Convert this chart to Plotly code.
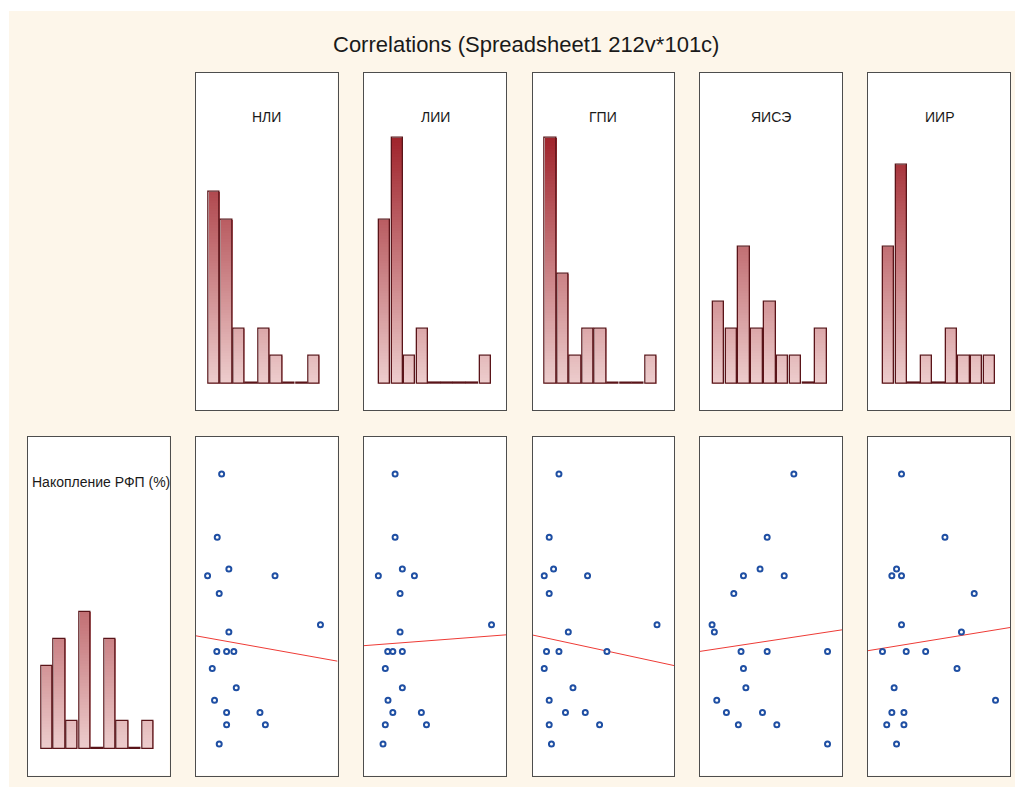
import numpy as np
import plotly.graph_objects as go

# ---------------- data ----------------
TITLE = "Correlations (Spreadsheet1 212v*101c)"
Y_NAME = "Накопление РФП (%)"
X_NAMES = ["НЛИ", "ЛИИ", "ГПИ", "ЯИСЭ", "ИИР"]

rfp = [89.1, 70.4, 61.0, 59.0, 59.0, 53.8, 44.5, 42.4, 36.6, 36.6, 36.6, 31.6, 25.9, 22.2, 18.6, 18.6, 15.0, 15.0, 9.3]
nli = [18.4, 15.3, 23.5, 8.5, 56.0, 16.7, 88.0, 23.5, 15.0, 21.9, 27.0, 11.8, 28.7, 13.4, 21.9, 45.4, 21.9, 49.2, 16.7]
lii = [21.9, 21.9, 27.0, 10.1, 35.5, 25.4, 89.8, 25.4, 16.7, 20.3, 27.0, 15.0, 27.0, 16.9, 20.3, 40.4, 15.0, 44.0, 13.4]
gpi = [18.7, 11.8, 14.9, 8.3, 38.9, 11.8, 88.0, 25.3, 9.9, 18.7, 52.6, 8.3, 28.6, 11.8, 23.3, 37.3, 11.8, 47.4, 13.4]
yise = [66.1, 47.3, 42.3, 30.6, 59.3, 23.8, 8.5, 10.1, 28.9, 47.3, 89.8, 30.6, 32.3, 11.8, 18.6, 44.0, 27.0, 54.1, 89.8]
iir = [23.6, 54.2, 20.1, 16.8, 23.6, 74.8, 23.6, 65.8, 10.2, 26.9, 40.6, 62.7, 18.4, 89.8, 16.8, 25.3, 13.2, 25.3, 20.1]

# histogram counts (9 bins between min and max of each variable)
nli_counts = [7, 6, 2, 0, 2, 1, 0, 0, 1]
lii_counts = [6, 9, 1, 2, 0, 0, 0, 0, 1]
gpi_counts = [9, 4, 1, 2, 2, 0, 0, 0, 1]
yise_counts = [3, 2, 5, 2, 3, 1, 1, 0, 2]
iir_counts = [5, 8, 0, 1, 0, 2, 1, 1, 1]
rfp_counts = [3, 4, 1, 5, 0, 4, 1, 0, 1]

x_vars = [nli, lii, gpi, yise, iir]
x_counts = [nli_counts, lii_counts, gpi_counts, yise_counts, iir_counts]

# ---------------- layout constants ----------------
W, H = 1022, 787
COLS = [(27.5, 169.5), (195.5, 337.5), (364, 506), (532.5, 674), (700, 842), (868, 1010)]
ROW_TOP = (72.7, 410)
ROW_BOT = (437, 775.5)
HIST_YRANGE = [-0.98, 11.37]
DATA_RANGE = [0, 100]
CREAM = "#FDF6EA"
FONT = "Liberation Sans, Arial, sans-serif"

C_LO = np.array([237, 205, 205])
C_HI = np.array([158, 32, 40])
C_MAX = 9.2


def grad_color(h):
    t = min(max(h / C_MAX, 0), 1)
    c = C_LO + (C_HI - C_LO) * t
    return "rgb(%d,%d,%d)" % tuple(int(round(v)) for v in c)


def px_dom(a, b, total, flip=False):
    if flip:
        return [1 - b / total, 1 - a / total]
    return [a / total, b / total]


fig = go.Figure()
layout = dict()


def axname(n, kind):
    return kind if n == 1 else f"{kind}{n}"


def ref(n, kind):
    return kind[0] if n == 1 else f"{kind[0]}{n}"


def add_axes(n, col, row, xr, yr):
    common = dict(showgrid=False, zeroline=False, showticklabels=False, ticks="",
                  showline=True, mirror=True, linecolor="#4d4d4d", linewidth=1.3,
                  fixedrange=True)
    layout[axname(n, "xaxis")] = dict(domain=px_dom(*COLS[col], W), range=xr,
                                      anchor=ref(n, "yaxis"), **common)
    layout[axname(n, "yaxis")] = dict(domain=px_dom(*row, H, flip=True), range=yr,
                                      anchor=ref(n, "xaxis"), **common)


def add_hist(n, values, counts):
    vmin, vmax = min(values), max(values)
    nb = len(counts)
    bw = (vmax - vmin) / nb
    centers = [vmin + (i + 0.5) * bw for i in range(nb)]
    xa, ya = ref(n, "xaxis"), ref(n, "yaxis")
    step = 0.1
    nl = int(np.ceil(max(counts) / step))
    for k in range(nl):
        lo = k * step
        hs = [max(0.0, c - lo) for c in counts]
        if max(hs) <= 0:
            continue
        fig.add_trace(go.Bar(x=centers, y=hs, base=[lo] * nb, width=bw * 0.9,
                             marker=dict(color=grad_color(lo + step / 2), line=dict(width=0)),
                             xaxis=xa, yaxis=ya, showlegend=False, hoverinfo="skip"))
    outline = [c if c > 0 else 0.02 for c in counts]
    fig.add_trace(go.Bar(x=centers, y=outline, width=bw * 0.9,
                         marker=dict(color="rgba(0,0,0,0)", line=dict(color="#5a1419", width=1.3)),
                         xaxis=xa, yaxis=ya, showlegend=False, hoverinfo="skip"))


# top row histograms
for j in range(5):
    n = j + 1
    add_axes(n, j + 1, ROW_TOP, DATA_RANGE, HIST_YRANGE)
    add_hist(n, x_vars[j], x_counts[j])

# bottom-left histogram of Y
add_axes(6, 0, ROW_BOT, DATA_RANGE, HIST_YRANGE)
add_hist(6, rfp, rfp_counts)

# bottom row scatter plots with regression lines
for j in range(5):
    n = 7 + j
    add_axes(n, j + 1, ROW_BOT, DATA_RANGE, DATA_RANGE)
    xa, ya = ref(n, "xaxis"), ref(n, "yaxis")
    xv = np.array(x_vars[j], dtype=float)
    yv = np.array(rfp, dtype=float)
    slope, icpt = np.polyfit(xv, yv, 1)
    lx = np.array(DATA_RANGE, dtype=float)
    fig.add_trace(go.Scatter(x=lx, y=slope * lx + icpt, mode="lines",
                             line=dict(color="#ee3b36", width=1),
                             xaxis=xa, yaxis=ya, showlegend=False, hoverinfo="skip"))
    fig.add_trace(go.Scatter(x=xv, y=yv, mode="markers",
                             marker=dict(symbol="circle", size=5, color="white",
                                         line=dict(color="#1f4fa3", width=2)),
                             xaxis=xa, yaxis=ya, showlegend=False, hoverinfo="skip"))

# annotations
annotations = [dict(text=TITLE, x=526 / W, y=1 - 44 / H, xref="paper", yref="paper",
                    xanchor="center", yanchor="middle", showarrow=False,
                    font=dict(family=FONT, size=22, color="#1a1a1a"))]
for j, name in enumerate(X_NAMES):
    a, b = COLS[j + 1]
    annotations.append(dict(text=name, x=(a + b) / 2 / W, y=1 - 117 / H, xref="paper", yref="paper",
                            xanchor="center", yanchor="middle", showarrow=False,
                            font=dict(family=FONT, size=14, color="#1a1a1a")))
a, b = COLS[0]
annotations.append(dict(text=Y_NAME, x=100.5 / W, y=1 - 482 / H, xref="paper", yref="paper",
                        xanchor="center", yanchor="middle", showarrow=False,
                        font=dict(family=FONT, size=14, color="#1a1a1a")))

shapes = [
    dict(type="rect", xref="paper", yref="paper", x0=0, x1=9 / W, y0=0, y1=1,
         fillcolor="white", line=dict(width=0), layer="below"),
    dict(type="rect", xref="paper", yref="paper", x0=0, x1=1, y0=1 - 11 / H, y1=1,
         fillcolor="white", line=dict(width=0), layer="below"),
    dict(type="rect", xref="paper", yref="paper", x0=1015 / W, x1=1, y0=0, y1=1,
         fillcolor="white", line=dict(width=0), layer="below"),
]

fig.update_layout(width=W, height=H, margin=dict(l=0, r=0, t=0, b=0),
                  paper_bgcolor=CREAM, plot_bgcolor="white", barmode="overlay",
                  bargap=0, showlegend=False, annotations=annotations, shapes=shapes,
                  font=dict(family=FONT), **layout)

fig.write_html("out.html", config={"displayModeBar": False},
               post_script="document.body.style.margin='0';document.body.style.overflow='hidden';")
